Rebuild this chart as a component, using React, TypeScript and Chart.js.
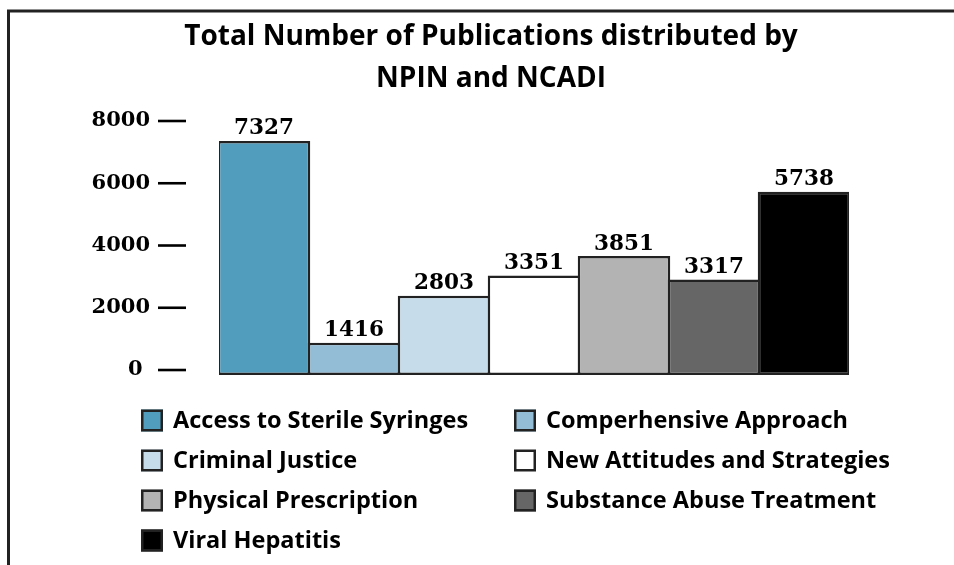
import React, { useEffect, useRef } from "react";
import { Chart, registerables } from "chart.js";

Chart.register(...registerables);

const categories = [
  "Access to Sterile Syringes",
  "Comperhensive Approach",
  "Criminal Justice",
  "New Attitudes and Strategies",
  "Physical Prescription",
  "Substance Abuse Treatment",
  "Viral Hepatitis",
];
// bar heights as drawn in the picture
const barHeights = [7360, 880, 2390, 3040, 3660, 2910, 5730];
// numbers printed above the bars
const valueLabels = ["7327", "1416", "2803", "3351", "3851", "3317", "5738"];
const barColors = ["#519dbe", "#93bcd6", "#c6dcea", "#ffffff", "#b3b3b3", "#666666", "#000000"];
const yTickValues = [0, 2000, 4000, 6000, 8000];
const yTickLabels = ["0 ", "2000", "4000", "6000", "8000"];
const titleLines = ["Total Number of Publications distributed by", "NPIN and NCADI"];

const SERIF = "'DejaVu Serif', serif";
const SANS = "'Open Sans', Lato, sans-serif";

const framePlugin = {
  id: "frame",
  beforeDraw(chart: any) {
    const { ctx, width, height } = chart;
    ctx.save();
    ctx.fillStyle = "#ffffff";
    ctx.fillRect(0, 0, width, height);
    ctx.strokeStyle = "#222222";
    ctx.lineWidth = 3;
    ctx.beginPath();
    ctx.moveTo(7, 11);
    ctx.lineTo(width, 11);
    ctx.moveTo(8.5, 9.5);
    ctx.lineTo(8.5, height);
    ctx.stroke();
    ctx.restore();
  },
};

const titlePlugin = {
  id: "twoLineTitle",
  afterDraw(chart: any) {
    const { ctx, chartArea } = chart;
    const cx = (chartArea.left + chartArea.right) / 2 - 43;
    ctx.save();
    ctx.fillStyle = "#000000";
    ctx.font = `bold 28px ${SANS}`;
    ctx.textAlign = "center";
    ctx.textBaseline = "alphabetic";
    titleLines.forEach((line, i) => {
      ctx.fillText(line, cx, chartArea.top - 76 + i * 42);
    });
    ctx.restore();
  },
};

const tickDashPlugin = {
  id: "tickDash",
  afterDraw(chart: any) {
    const { ctx, chartArea } = chart;
    const y = chart.scales.y;
    ctx.save();
    ctx.strokeStyle = "#000000";
    ctx.lineWidth = 2.6;
    yTickValues.forEach((v) => {
      const py = y.getPixelForValue(v);
      ctx.beginPath();
      ctx.moveTo(chartArea.left - 61, py);
      ctx.lineTo(chartArea.left - 33, py);
      ctx.stroke();
    });
    ctx.restore();
  },
};

const valueLabelPlugin = {
  id: "valueLabels",
  afterDatasetsDraw(chart: any) {
    const { ctx } = chart;
    const meta = chart.getDatasetMeta(0);
    ctx.save();
    ctx.fillStyle = "#000000";
    ctx.font = `bold 21.5px ${SERIF}`;
    ctx.textAlign = "center";
    ctx.textBaseline = "alphabetic";
    meta.data.forEach((bar: any, i: number) => {
      ctx.fillText(valueLabels[i], bar.x, bar.y - 6.5);
    });
    ctx.restore();
  },
};

const legendPlugin = {
  id: "gridLegend",
  afterDraw(chart: any) {
    const { ctx, chartArea } = chart;
    ctx.save();
    ctx.font = `bold 23.5px ${SANS}`;
    ctx.textBaseline = "middle";
    ctx.textAlign = "left";
    categories.forEach((name, i) => {
      const col = i % 2;
      const row = Math.floor(i / 2);
      const x = chartArea.left - 78 + col * 373;
      const yc = chartArea.bottom + 45.5 + row * 40;
      ctx.fillStyle = barColors[i];
      ctx.fillRect(x, yc - 11, 22, 22);
      ctx.strokeStyle = "#222222";
      ctx.lineWidth = 2.5;
      ctx.strokeRect(x + 1.25, yc - 9.75, 19.5, 19.5);
      ctx.fillStyle = "#000000";
      ctx.fillText(name, x + 32, yc + 1);
    });
    ctx.restore();
  },
};

export default function App() {
  const canvasRef = useRef<HTMLCanvasElement | null>(null);

  useEffect(() => {
    document.body.style.margin = "0";
    const canvas = canvasRef.current;
    if (!canvas) return;
    const chart = new Chart(canvas, {
      type: "bar",
      data: {
        labels: categories,
        datasets: [
          {
            data: barHeights,
            backgroundColor: barColors,
            borderColor: "#222222",
            borderWidth: 2.5,
            borderSkipped: false,
            categoryPercentage: 1,
            barPercentage: 1.028,
            base: -160,
          } as any,
        ],
      },
      options: {
        responsive: false,
        animation: false,
        events: [],
        layout: { padding: { top: 121, left: 70, right: 105, bottom: 190 } },
        plugins: {
          legend: { display: false },
          tooltip: { enabled: false },
          title: { display: false },
        },
        scales: {
          x: { display: false },
          y: {
            min: -160,
            max: 8000,
            afterFit: (s: any) => {
              s.width = 149;
            },
            afterBuildTicks: (s: any) => {
              s.ticks = yTickValues.map((v) => ({ value: v }));
            },
            grid: { display: false, drawTicks: false },
            border: { display: false },
            ticks: {
              padding: 69,
              color: "#000000",
              font: { family: SERIF, weight: "bold", size: 21 },
              callback: (v: any) => {
                const idx = yTickValues.indexOf(Number(v));
                return idx >= 0 ? yTickLabels[idx] : "";
              },
            },
          },
        },
      },
      plugins: [framePlugin, titlePlugin, tickDashPlugin, valueLabelPlugin, legendPlugin],
    });
    return () => chart.destroy();
  }, []);

  return (
    <div style={{ width: 954, height: 565 }}>
      <canvas ref={canvasRef} width={954} height={565} style={{ display: "block" }} />
    </div>
  );
}
